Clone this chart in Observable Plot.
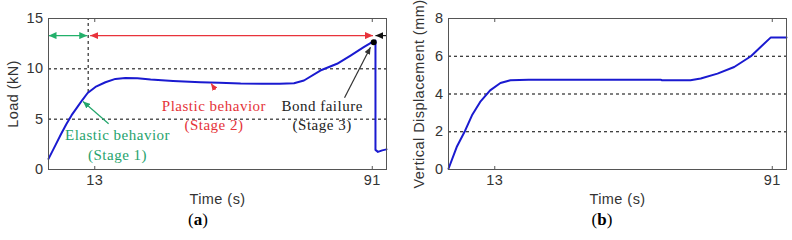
<!DOCTYPE html>
<html><head><meta charset="utf-8">
<script src="https://cdn.jsdelivr.net/npm/d3@7"></script>
<script src="https://cdn.jsdelivr.net/npm/@observablehq/plot@0.6"></script>
<style>
body{margin:0;background:#fff;}
#wrap{display:flex;width:792px;height:240px;overflow:hidden;}
.panel{width:396px;position:relative;}
.panel svg{display:block;letter-spacing:0.45px;}
.panel svg g[font-family^="Liberation Serif"]{letter-spacing:0.5px;}
.cap{position:absolute;top:208px;width:60px;text-align:center;font-family:"Liberation Serif","Times New Roman",serif;font-size:17px;line-height:24px;color:#000;}
</style></head><body>
<div id="wrap"><div class="panel" id="pa"></div><div class="panel" id="pb"></div></div>
<script>
// ---- data (a): Load vs time ----
const timeA = [0, 2, 3.5, 5, 6.5, 8, 9.5, 11, 13.2, 16, 18.8, 21.6, 25, 28.7, 35, 42.7, 48, 54, 60, 65, 69, 71.8, 76.4, 81.1, 84.9, 88.6, 91.2, 91.9, 91.9, 92.6, 93.8, 95];
const loadA = [1.06, 2.45, 3.5, 4.5, 5.4, 6.15, 6.9, 7.6, 8.2, 8.67, 9.0, 9.1, 9.07, 8.94, 8.8, 8.67, 8.62, 8.54, 8.52, 8.51, 8.57, 8.84, 9.83, 10.5, 11.32, 12.15, 12.71, 12.8, 1.95, 1.75, 1.9, 2.0];
// ---- data (b): Vertical displacement vs time ----
const timeB = [0, 2.3, 4.7, 6.6, 8.9, 11.7, 14.6, 17.4, 22.5, 30, 40, 50, 59.6, 60, 68, 70.9, 75.6, 80.3, 85, 87.8, 90.6, 95];
const dispB = [0.04, 1.19, 2.07, 2.87, 3.58, 4.19, 4.58, 4.73, 4.76, 4.76, 4.76, 4.76, 4.76, 4.73, 4.73, 4.82, 5.08, 5.43, 6.0, 6.5, 7.0, 7.0];

const xTicks = [13, 91];
const yTicksA = [0, 5, 10, 15];
const yGridA = [5, 10];
const yTicksB = [0, 2, 4, 6, 8];
const yGridB = [2, 4, 6];

// stage arrows (a)
const stageY = 13.3;
const stageDoubleX1 = [0, 11.7];
const stageDoubleX2 = [10.9, 91.2];
const stageDoubleColor = ["#22b06a", "#e8333b"];
const stageFailX1 = [95], stageFailX2 = [91.9];
const boundaryT = 11.15, boundaryLoad = 7.65;
const peakT = 91.4, peakLoad = 12.65;

// annotation labels
const annText = ["Elastic behavior\n(Stage 1)", "Plastic behavior\n(Stage 2)", "Bond failure\n(Stage 3)"];
const annX = [19.4, 46.5, 76.9];
const annY = [2.58, 5.48, 5.48];
const annColor = ["#1fa36d", "#e53339", "#222222"];
// pointer arrows
const ptrX1 = [16.9, 46.9, 83.2], ptrY1 = [4.54, 7.92, 7.12];
const ptrX2 = [9.7, 45.7, 90.5], ptrY2 = [6.75, 8.54, 12.15];
const ptrColor = ["#22a56b", "#e8333b", "#333333"];

const dataA = timeA.map((t, i) => ({t, v: loadA[i]}));
const dataB = timeB.map((t, i) => ({t, v: dispB[i]}));

function tri(len, half) {
  return (color, context) => {
    const m = d3.create("svg:marker")
      .attr("viewBox", `${-len} ${-half} ${len} ${2 * half}`)
      .attr("markerWidth", len).attr("markerHeight", 2 * half)
      .attr("markerUnits", "userSpaceOnUse")
      .attr("orient", "auto-start-reverse")
      .attr("fill", color).attr("stroke", "none");
    m.append("path").attr("d", `M${-len},${-half}L0,0L${-len},${half}Z`);
    return m.node();
  };
}

const serif = "Liberation Serif, Times New Roman, serif";
const sans = "Liberation Sans, Arial, sans-serif";
const FS = 14.5;

function axes(yTicks) {
  return [
    Plot.axisX(xTicks, {anchor: "bottom", label: null, tickSize: -3, tickPadding: 8, stroke: "#555", fontSize: FS}),
    Plot.axisX(xTicks, {anchor: "top", label: null, tickSize: -3, tickFormat: () => "", stroke: "#555"}),
    Plot.axisY(yTicks, {anchor: "left", label: null, tickSize: -3, tickPadding: 8, stroke: "#555", fontSize: FS}),
    Plot.axisY(yTicks, {anchor: "right", label: null, tickSize: -3, tickFormat: () => "", stroke: "#555"})
  ];
}

const plotA = Plot.plot({
  width: 396, height: 208,
  marginLeft: 48, marginRight: 10, marginTop: 18, marginBottom: 39,
  style: {fontFamily: sans, fontSize: FS + "px", color: "#333", background: "#fff"},
  x: {domain: [0, 95], axis: null},
  y: {domain: [0, 15], axis: null},
  marks: [
    Plot.ruleY(yGridA, {stroke: "#000", strokeDasharray: "3,3", strokeWidth: 1}),
    Plot.ruleX([boundaryT], {y1: boundaryLoad, y2: 15, stroke: "#000", strokeDasharray: "3,3"}),
    Plot.line(dataA, {x: "t", y: "v", stroke: "#1a1ad0", strokeWidth: 2}),
    Plot.link(stageDoubleX1, {x1: d => d, x2: (d, i) => stageDoubleX2[i], y1: () => stageY, y2: () => stageY,
      stroke: (d, i) => stageDoubleColor[i], strokeWidth: 1.2, markerStart: tri(8, 3.5), markerEnd: tri(8, 3.5)}),
    Plot.link(stageFailX1, {x1: d => d, x2: (d, i) => stageFailX2[i], y1: () => stageY, y2: () => stageY,
      stroke: "#111", strokeWidth: 1.2, markerEnd: tri(8, 3.5)}),
    Plot.dot([peakT], {x: d => d, y: () => peakLoad, r: 3, fill: "#000"}),
    Plot.link(ptrX1, {x1: d => d, y1: (d, i) => ptrY1[i], x2: (d, i) => ptrX2[i], y2: (d, i) => ptrY2[i],
      stroke: (d, i) => ptrColor[i], strokeWidth: 1.2, markerEnd: tri(7, 3)}),
    Plot.text(annText, {x: (d, i) => annX[i], y: (d, i) => annY[i], text: d => d, fill: (d, i) => annColor[i],
      fontFamily: serif, fontSize: 15, lineHeight: 1.3, lineAnchor: "middle"}),
    Plot.frame({stroke: "#555"}),
    ...axes(yTicksA),
    Plot.text(["Time (s)"], {text: d => d, frameAnchor: "bottom", dy: 29.5, lineAnchor: "middle", fontSize: FS, fill: "#333"}),
    Plot.text(["Load (kN)"], {text: d => d, frameAnchor: "left", dx: -35, rotate: -90, textAnchor: "middle", fontSize: FS, fill: "#333"})
  ]
});
document.getElementById("pa").append(plotA);

const plotB = Plot.plot({
  width: 396, height: 208,
  marginLeft: 52, marginRight: 6, marginTop: 18, marginBottom: 39,
  style: {fontFamily: sans, fontSize: FS + "px", color: "#333", background: "#fff"},
  x: {domain: [0, 95], axis: null},
  y: {domain: [0, 8], axis: null},
  marks: [
    Plot.ruleY(yGridB, {stroke: "#000", strokeDasharray: "3,3", strokeWidth: 1}),
    Plot.line(dataB, {x: "t", y: "v", stroke: "#1a1ad0", strokeWidth: 2}),
    Plot.frame({stroke: "#555"}),
    ...axes(yTicksB),
    Plot.text(["Time (s)"], {text: d => d, frameAnchor: "bottom", dy: 29.5, lineAnchor: "middle", fontSize: FS, fill: "#333"}),
    Plot.text(["Vertical Displacement (mm)"], {text: d => d, frameAnchor: "left", dx: -29, rotate: -90, textAnchor: "middle", fontSize: FS, fill: "#333"})
  ]
});
document.getElementById("pb").append(plotB);

const capA = document.createElement("div");
capA.className = "cap"; capA.style.left = (198 - 30) + "px"; capA.innerHTML = "(<b>a</b>)";
document.getElementById("pa").append(capA);
const capB = document.createElement("div");
capB.className = "cap"; capB.style.left = (206 - 30) + "px"; capB.innerHTML = "(<b>b</b>)";
document.getElementById("pb").append(capB);
</script>
</body></html>
